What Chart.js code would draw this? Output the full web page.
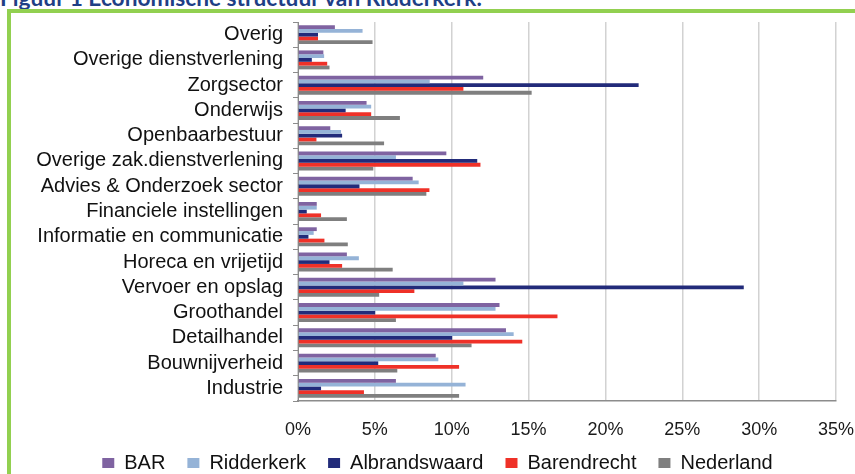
<!DOCTYPE html>
<html>
<head>
<meta charset="utf-8">
<script src="https://cdn.jsdelivr.net/npm/chart.js@4.4.1/dist/chart.umd.min.js"></script>
<style>
  html, body { margin: 0; padding: 0; background: #fff; }
  #wrap { position: relative; width: 855px; height: 474px; overflow: hidden; background: #fff; }
  #caption { position: absolute; left: 0; top: -13px; font: bold 22.7px Lato, "Open Sans", sans-serif; line-height: 22px; color: #1F3F86; white-space: nowrap; }
  #frame { position: absolute; left: 7px; top: 9px; width: 900px; height: 520px; border-left: 4px solid #92D050; border-top: 4px solid #92D050; }
  #chart { position: absolute; left: 0; top: 0; }
</style>
</head>
<body>
<div id="wrap">
  <div id="caption">Figuur 1 Economische structuur van Ridderkerk.</div>
  <div id="frame"></div>
  <canvas id="chart" width="855" height="495"></canvas>
</div>
<script>
// Sectors, top to bottom
const categories = [
  'Overig',
  'Overige dienstverlening',
  'Zorgsector',
  'Onderwijs',
  'Openbaarbestuur',
  'Overige zak.dienstverlening',
  'Advies & Onderzoek sector',
  'Financiele instellingen',
  'Informatie en communicatie',
  'Horeca en vrijetijd',
  'Vervoer en opslag',
  'Groothandel',
  'Detailhandel',
  'Bouwnijverheid',
  'Industrie'
];

// Share of employment per sector (%)
const bar           = [2.4, 1.65, 12.05, 4.46, 2.1, 9.65, 7.46, 1.22, 1.22, 3.18, 12.85, 13.11, 13.53, 8.96, 6.37];
const ridderkerk    = [4.2, 1.7, 8.57, 4.76, 2.8, 6.37, 7.85, 1.22, 1.02, 3.96, 10.76, 12.85, 14.03, 9.13, 10.9];
const albrandswaard = [1.3, 0.9, 22.16, 3.1, 2.87, 11.66, 4.0, 0.57, 0.68, 2.05, 29.0, 5.02, 10.03, 5.22, 1.5];
const barendrecht   = [1.3, 1.9, 10.76, 4.76, 1.2, 11.87, 8.55, 1.5, 1.72, 2.87, 7.57, 16.88, 14.59, 10.48, 4.29];
const nederland     = [4.85, 2.05, 15.2, 6.63, 5.6, 4.9, 8.35, 3.18, 3.24, 6.16, 5.28, 6.37, 11.29, 6.46, 10.48];

const seriesNames  = ['BAR', 'Ridderkerk', 'Albrandswaard', 'Barendrecht', 'Nederland'];
const seriesValues = [bar, ridderkerk, albrandswaard, barendrecht, nederland];
const seriesColors = ['#7F63A1', '#95B3D7', '#222B7A', '#EF3128', '#7F7F7F'];

// x axis range and step (%)
const xMin = 0, xMax = 35, xStep = 5;

const labelFont = { family: '"Liberation Sans", Arial, sans-serif', size: 20 };

// Moves the legend row closer to the axis labels after layout
const legendOffset = {
  id: 'legendOffset',
  afterLayout(chart) {
    const lg = chart.legend;
    if (!lg) return;
    lg.top -= 12; lg.bottom -= 12;
    lg.left += 4; lg.right += 4;
  }
};

new Chart(document.getElementById('chart'), {
  type: 'bar',
  data: {
    labels: categories,
    datasets: seriesNames.map((name, i) => ({
      label: name,
      data: seriesValues[i],
      backgroundColor: seriesColors[i],
      borderWidth: 0,
      categoryPercentage: 0.75,
      barPercentage: 1.0
    }))
  },
  options: {
    indexAxis: 'y',
    responsive: false,
    animation: false,
    layout: { padding: { left: 12, right: 0, top: 19, bottom: 0 } },
    scales: {
      x: {
        min: xMin,
        max: xMax,
        ticks: {
          stepSize: xStep,
          callback: v => v + '%',
          font: { family: labelFont.family, size: 18 },
          color: '#1a1a1a',
          padding: 18
        },
        grid: { color: '#d2d2d2', lineWidth: 1.5, drawTicks: false },
        border: { color: '#8c8c8c', width: 1.5 },
        afterFit(scale) {
          scale.height = 42;
          scale.paddingLeft = 0;
          scale.paddingRight = 19;
        }
      },
      y: {
        ticks: { font: labelFont, color: '#111', padding: 10, autoSkip: false },
        grid: { drawOnChartArea: false, drawTicks: true, tickLength: 5, color: '#8c8c8c' },
        border: { color: '#8c8c8c', width: 1 },
        afterFit(scale) { scale.width = 286; }
      }
    },
    plugins: {
      legend: {
        position: 'bottom',
        labels: {
          boxWidth: 12,
          boxHeight: 10,
          font: labelFont,
          color: '#111',
          padding: 22
        }
      },
      tooltip: { enabled: false }
    }
  },
  plugins: [legendOffset]
});
</script>
</body>
</html>
